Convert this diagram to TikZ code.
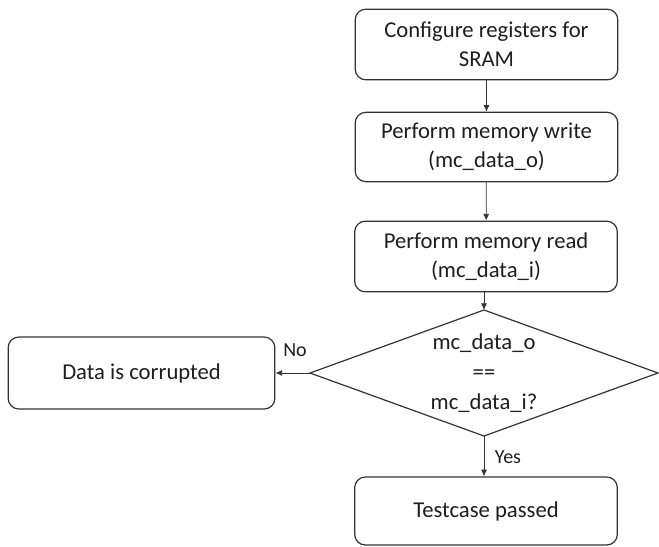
\documentclass[tikz,border=0pt]{standalone}
\usepackage{fontspec}
\setmainfont{Carlito}
\usetikzlibrary{arrows.meta}
\definecolor{txt}{HTML}{1E1E1E}
\definecolor{ln}{HTML}{333333}
\begin{document}
\begin{tikzpicture}[x=0.75pt,y=-0.75pt,
  procbox/.style={draw=ln,line width=0.9pt,rounded corners=8pt,align=center,
    text=txt,font=\fontsize{17}{21.75}\selectfont,minimum width=197pt,minimum height=52pt,inner sep=0pt},
  conn/.style={draw=ln,line width=0.6pt,-{Latex[length=5pt,width=4.5pt]}},
  lbl/.style={text=txt,font=\fontsize{15}{17}\selectfont,inner sep=0pt}]
\useasboundingbox (0,0) rectangle (659,546);
\node[procbox,minimum height=53pt] (cfg) at (486.5,44.5) {Configure registers for\\SRAM};
\node[procbox] (wr) at (486.5,147) {Perform memory write\\(mc\_data\_o)};
\node[procbox,minimum height=53pt] (rd) at (486,256.5) {Perform memory read\\(mc\_data\_i)};
\coordinate (dtop) at (484,310);
\coordinate (dright) at (658,373);
\coordinate (dbot) at (484,436);
\coordinate (dleft) at (310,373);
\draw[ln,line width=0.9pt] (dtop) -- (dright) -- (dbot) -- (dleft) -- cycle;
\node[text=txt,align=center,font=\fontsize{17}{22.5}\selectfont,inner sep=0pt] (cmp) at (484,373) {mc\_data\_o\\==\\mc\_data\_i?};
\node[procbox,minimum width=200pt,minimum height=54pt] (bad) at (141.5,373) {Data is corrupted};
\node[procbox,minimum height=51pt] (ok) at (486,511) {Testcase passed};
\draw[conn] (cfg) -- (wr);
\draw[conn] (wr) -- (rd);
\draw[conn] (rd.south -| dtop) -- (dtop);
\draw[conn] (dleft) -- (bad.east);
\draw[conn] (dbot) -- (ok.north -| dbot);
\node[lbl] (no) at (295,350) {No};
\node[lbl] (yes) at (508,457) {Yes};
\end{tikzpicture}
\end{document}
